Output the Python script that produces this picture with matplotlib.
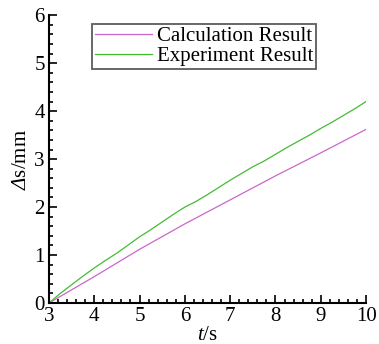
import matplotlib
matplotlib.use("Agg")
import matplotlib.pyplot as plt
from matplotlib.ticker import MultipleLocator

plt.rcParams['font.family'] = ['Liberation Serif', 'DejaVu Serif']
plt.rcParams['mathtext.fontset'] = 'custom'
plt.rcParams['mathtext.rm'] = 'Liberation Serif'
plt.rcParams['mathtext.it'] = 'Liberation Serif:italic'
plt.rcParams['mathtext.sf'] = 'Liberation Serif:italic'

t_calc = [3.0, 4.0, 5.0, 6.0, 7.0, 8.0, 9.0, 10.0]
s_calc = [0.0, 0.55, 1.12, 1.65, 2.15, 2.65, 3.13, 3.62]

t_exp = [3.0, 3.25, 3.5, 3.75, 4.0, 4.25, 4.5, 4.75, 5.0, 5.25, 5.5, 5.75,
         6.0, 6.25, 6.5, 6.75, 7.0, 7.25, 7.5, 7.75, 8.0, 8.25, 8.5, 8.75,
         9.0, 9.25, 9.5, 9.75, 10.0]
s_exp = [0.0, 0.2, 0.38, 0.56, 0.73, 0.89, 1.04, 1.21, 1.38, 1.53, 1.69, 1.85,
         2.0, 2.12, 2.26, 2.41, 2.56, 2.70, 2.84, 2.96, 3.10, 3.24, 3.37, 3.50,
         3.64, 3.77, 3.91, 4.05, 4.20]

labels = ['Calculation Result', 'Experiment Result']

fig = plt.figure(figsize=(3.79, 3.44), dpi=100)
ax = fig.add_axes([0.129, 0.119, 0.837, 0.837])
ax.plot(t_calc, s_calc, color='#cc66cc', lw=0.9, label=labels[0])
ax.plot(t_exp, s_exp, color='#44bb33', lw=0.9, label=labels[1])

ax.set_xlim(3, 10)
ax.set_ylim(0, 6)
ax.xaxis.set_major_locator(MultipleLocator(1))
ax.xaxis.set_minor_locator(MultipleLocator(0.2))
ax.yaxis.set_major_locator(MultipleLocator(1))
ax.yaxis.set_minor_locator(MultipleLocator(0.2))
ax.spines['top'].set_visible(False)
ax.spines['right'].set_visible(False)
for s in ['left', 'bottom']:
    ax.spines[s].set_linewidth(1.5)
ax.tick_params(which='both', direction='in', width=1.2, labelsize=15, pad=3)
ax.tick_params(which='major', length=6)
ax.tick_params(which='minor', length=3)

ax.set_xlabel(r'$\mathit{t}$/s', fontsize=15, labelpad=0)
ax.set_ylabel(r'$\mathsf{Δ}$s/mm', fontsize=15, labelpad=2)

leg = ax.legend(loc='upper left', bbox_to_anchor=(0.136, 0.97), fontsize=15,
                frameon=True, fancybox=False, edgecolor='#333333',
                borderpad=0.15, labelspacing=0.0, handlelength=2.75,
                handletextpad=0.2, borderaxespad=0)
leg.get_frame().set_linewidth(1.3)

fig.savefig('out.png', dpi=100)
